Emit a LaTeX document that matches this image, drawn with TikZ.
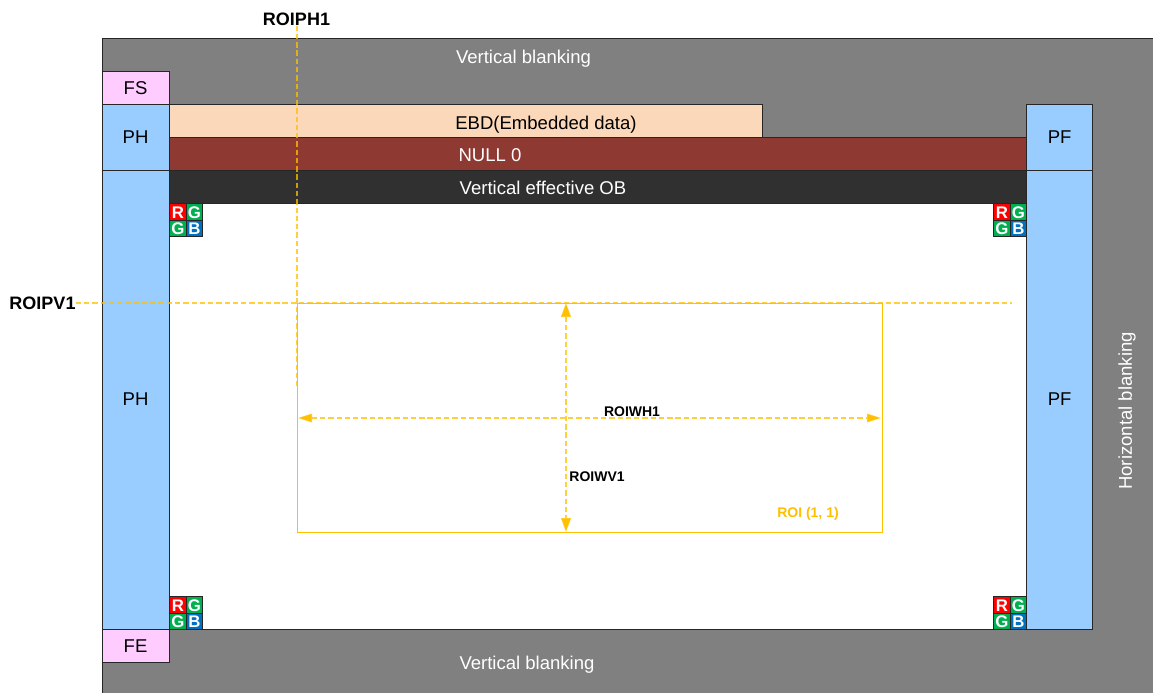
\documentclass[tikz,border=0pt]{standalone}
\usepackage{fontspec}
\setmainfont{Liberation Sans}
\usetikzlibrary{arrows.meta}
\definecolor{grayback}{HTML}{808080}
\definecolor{pinkbox}{HTML}{FFCCFF}
\definecolor{bluebox}{HTML}{99CCFF}
\definecolor{peach}{HTML}{FBD8B9}
\definecolor{nullred}{HTML}{8E3932}
\definecolor{obdark}{HTML}{303030}
\definecolor{gold}{HTML}{FFC000}
\definecolor{cellr}{HTML}{FF0000}
\definecolor{cellg}{HTML}{00B050}
\definecolor{cellb}{HTML}{0070C0}
\newcommand{\bx}[6]{%
  \pgfmathsetmacro{\bxw}{(#4-#2)*0.75}\pgfmathsetmacro{\bxh}{(#5-#3)*0.75}%
  \node[boxed,#6,minimum width=\bxw pt,minimum height=\bxh pt] (#1) at ({(#2+#4)/2},{(#3+#5)/2}) {};}
\newcommand{\bayer}[3]{%
  \pgfmathsetmacro{\xa}{#2}\pgfmathsetmacro{\xb}{#2+16.5}\pgfmathsetmacro{\xc}{#2+33}%
  \pgfmathsetmacro{\ya}{#3}\pgfmathsetmacro{\yb}{#3+16.5}\pgfmathsetmacro{\yc}{#3+33}%
  \bx{#1r}{\xa}{\ya}{\xb}{\yb}{fill=cellr}\node[celltext] at ([yshift=-0.3pt]#1r) {R};
  \bx{#1g}{\xb}{\ya}{\xc}{\yb}{fill=cellg}\node[celltext] at ([yshift=-0.3pt]#1g) {G};
  \bx{#1h}{\xa}{\yb}{\xb}{\yc}{fill=cellg}\node[celltext] at ([yshift=-0.3pt]#1h) {G};
  \bx{#1b}{\xb}{\yb}{\xc}{\yc}{fill=cellb}\node[celltext] at ([yshift=-0.3pt]#1b) {B};}
\tikzset{
  boxed/.style={draw=black!85,line width=0.65pt,inner sep=0pt,outer sep=0pt},
  lab/.style={inner sep=0pt,font=\fontsize{13.9}{16}\selectfont,text=#1},
  lab/.default=black,
  boldbig/.style={inner sep=0pt,font=\fontsize{13.5}{16}\selectfont\bfseries},
  boldsmall/.style={inner sep=0pt,font=\fontsize{10.5}{12}\selectfont\bfseries},
  celltext/.style={inner sep=0pt,text=white,font=\fontsize{12.6}{12}\selectfont\bfseries},
  guide/.style={draw=gold,draw opacity=0.75,line width=0.85pt,dash pattern=on 4pt off 2.2pt},
  hv/.style={guide,{Triangle[length=10.5pt,width=7.5pt,fill=gold,color=gold]}-{Triangle[length=10.5pt,width=7.5pt,fill=gold,color=gold]}},
  hh/.style={guide,{Triangle[length=10.5pt,width=6.5pt,fill=gold,color=gold]}-{Triangle[length=10.5pt,width=6.5pt,fill=gold,color=gold]}},
}
\begin{document}
\begin{tikzpicture}[x=0.75pt,y=-0.75pt]
\useasboundingbox (0,0) rectangle (1153,693);
\begin{scope}[shift={(-0.4,-0.4)}]
\fill[grayback] (103,39) rectangle (1153.4,693.4);
\draw[black!85,line width=0.65pt] (103,693.4) -- (103,39) -- (1153.4,39);
\bx{white}{170}{204}{1027}{630}{fill=white}
\bx{fs}{103}{72}{170}{105}{fill=pinkbox}
\bx{phtop}{103}{105}{170}{171}{fill=bluebox}
\bx{ph}{103}{171}{170}{630}{fill=bluebox}
\bx{fe}{103}{630}{170}{663}{fill=pinkbox}
\bx{ebd}{170}{105}{763}{138}{fill=peach}
\bx{nullz}{170}{138}{1027}{171}{fill=nullred}
\bx{ob}{170}{171}{1027}{204}{fill=obdark}
\bx{pftop}{1027}{105}{1093}{171}{fill=bluebox}
\bx{pf}{1027}{171}{1093}{630}{fill=bluebox}
\bayer{tl}{170}{204}
\bayer{tr}{994}{204}
\bayer{bl}{170}{597}
\bayer{br}{994}{597}
\end{scope}
\node[lab] at ([xshift=-0.4pt]fs) {FS};
\node[lab] at ([xshift=-0.4pt,yshift=0.6pt]phtop) {PH};
\node[lab] at ([xshift=-0.4pt,yshift=0.6pt]ph) {PH};
\node[lab] at ([xshift=-0.4pt,yshift=0.2pt]fe) {FE};
\node[lab] at ([yshift=0.6pt]pftop) {PF};
\node[lab] at ([yshift=0.6pt]pf) {PF};
\node[lab=white] (vbt) at (523.5,59) {Vertical blanking};
\node[lab=white] (vbb) at (527,665) {Vertical blanking};
\node[lab] (ebdt) at (546,124.5) {EBD(Embedded data)};
\node[lab=white] (nullt) at (490,155) {NULL 0};
\node[lab=white] (obt) at (543,187.5) {Vertical effective OB};
\node[lab=white,rotate=90] (hb) at (1127,411) {Horizontal blanking};
% ROI
\bx{roi}{297}{303}{882}{532}{draw=gold,line width=0.7pt}
\node[boldbig,anchor=center] (ph1) at (296.5,19) {ROIPH1};
\node[boldbig,anchor=center] (pv1) at (42.5,303) {ROIPV1};
\coordinate (ph1end) at (297,386);
\coordinate (pv1end) at (1012,303);
\draw[guide] (ph1.south -| ph1end) -- (ph1end);
\draw[guide] (pv1.east) -- (pv1end);
\coordinate (vtop) at (566,303);
\coordinate (vbot) at (566,532);
\coordinate (hleft) at (298,418);
\coordinate (hright) at (881,418);
\draw[hv] (vtop) -- (vbot);
\draw[hh] (hleft) -- (hright);
\node[boldsmall] (wh) at (632,411.5) {ROIWH1};
\node[boldsmall] (wv) at (597,476.5) {ROIWV1};
\node[boldsmall,text=gold] (roit) at (808,513.5) {ROI (1, 1)};
\end{tikzpicture}
\end{document}
